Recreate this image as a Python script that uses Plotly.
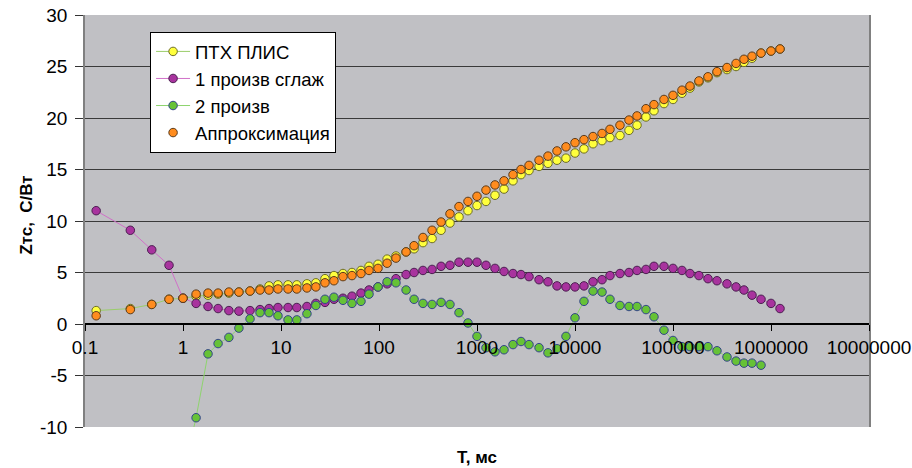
import plotly.graph_objects as go

# X positions (T, ms)
t_ms = [0.13, 0.29, 0.48, 0.72, 1.0, 1.36, 1.80, 2.28, 2.94, 3.72,
        4.83, 6.11, 7.55, 9.31, 11.8, 14.5, 18.4, 22.7, 28.1, 34.7,
        42.9, 53.0, 65.5, 79.1, 97.7, 121, 149, 189, 228, 281,
        348, 430, 530, 655, 809, 1000, 1235, 1526, 1887, 2330,
        2812, 3395, 4296, 5300, 6550, 8090, 10000, 12350, 15270, 18870,
        22750, 28770, 35560, 42950, 53000, 63970, 80900, 100000, 123500, 149000,
        184000, 227500, 281000, 355600, 439800, 530000, 640000, 791000, 1000000, 1236000]

ptx_plis = [1.3, 1.5, 1.9, 2.4, 2.5, 2.7, 2.8, 2.9, 3.0, 3.1,
            3.2, 3.4, 3.7, 3.8, 3.8, 3.8, 3.9, 4.0, 4.4, 4.7,
            4.9, 5.0, 5.2, 5.6, 5.8, 6.3, 6.6, 7.0, 7.3, 7.9,
            8.3, 9.1, 9.8, 10.4, 11.0, 11.5, 11.9, 12.5, 13.1, 13.9,
            14.5, 14.9, 15.3, 15.6, 15.9, 16.1, 16.6, 17.0, 17.5, 17.8,
            18.1, 18.3, 18.8, 19.3, 20.1, 20.7, 21.4, 21.8, 22.4, 22.9,
            23.5, 23.9, 24.4, 24.7, 25.0, 25.4, 25.8, 26.3, 26.5, 26.7]

deriv1 = [11.0, 9.1, 7.2, 5.7, 2.5, 2.0, 1.7, 1.5, 1.3, 1.25,
          1.3, 1.4, 1.5, 1.6, 1.6, 1.6, 1.7, 2.0, 2.1, 2.4,
          2.5, 2.7, 3.0, 3.3, 3.6, 3.9, 4.4, 4.8, 5.0, 5.2,
          5.3, 5.6, 5.7, 6.0, 6.0, 6.0, 5.7, 5.4, 5.1, 4.9,
          4.8, 4.6, 4.3, 4.1, 3.7, 3.6, 3.6, 3.7, 4.1, 4.3,
          4.7, 4.9, 5.0, 5.2, 5.3, 5.6, 5.6, 5.4, 5.2, 4.9,
          4.7, 4.4, 4.2, 3.9, 3.6, 3.3, 2.8, 2.4, 2.0, 1.5]

deriv2 = [None, None, None, None, -14.5, -9.1, -2.9, -1.9, -1.3, -0.4,
          0.5, 1.1, 1.1, 0.8, 0.4, 0.4, 1.0, 1.8, 2.4, 2.6,
          2.3, 2.0, 2.2, 2.9, 3.6, 4.1, 4.0, 3.3, 2.4, 2.0,
          1.9, 2.1, 1.9, 1.1, 0.1, -1.2, -2.3, -2.7, -2.5, -2.0,
          -1.7, -2.0, -2.3, -2.8, -2.4, -1.2, 0.6, 2.2, 3.2, 3.1,
          2.4, 1.8, 1.7, 1.7, 1.4, 0.7, -0.6, -1.6, -2.2, -2.2,
          -2.2, -2.2, -2.6, -3.2, -3.6, -3.8, -3.8, -4.0, None, None]

approx = [0.8, 1.4, 1.9, 2.4, 2.5, 2.9, 3.0, 3.0, 3.1, 3.1,
          3.2, 3.3, 3.3, 3.4, 3.4, 3.4, 3.5, 3.6, 4.0, 4.2,
          4.6, 4.7, 4.9, 5.2, 5.4, 5.9, 6.4, 7.0, 7.6, 8.4,
          9.1, 9.9, 10.7, 11.4, 11.9, 12.4, 13.0, 13.5, 13.9, 14.5,
          15.0, 15.4, 15.9, 16.3, 16.8, 17.2, 17.6, 17.9, 18.2, 18.5,
          18.9, 19.3, 19.8, 20.2, 20.9, 21.3, 21.8, 22.2, 22.7, 23.1,
          23.6, 24.0, 24.5, 24.9, 25.3, 25.7, 26.0, 26.3, 26.5, 26.7]

x_tickvals = [0.1, 1, 10, 100, 1000, 10000, 100000, 1000000, 10000000]
x_ticktext = ["0.1", "1", "10", "100", "1000", "10000", "100000", "1000000", "10000000"]
y_tickvals = [-10, -5, 0, 5, 10, 15, 20, 25, 30]
y_ticktext = ["-10", "-5", "0", "5", "10", "15", "20", "25", "30"]

FONT = "Liberation Sans, Arial, sans-serif"

fig = go.Figure()
fig.add_trace(go.Scatter(
    x=t_ms, y=ptx_plis, name="ПТХ ПЛИС", mode="lines+markers", legendgroup="a",
    line=dict(color="#9ACD6A", width=1),
    marker=dict(color="#FFFF3C", size=8.5, line=dict(color="#6B6B2A", width=1))))
fig.add_trace(go.Scatter(
    x=t_ms, y=deriv1, name="1 произв сглаж", mode="lines+markers", legendgroup="b",
    line=dict(color="#D070C8", width=1),
    marker=dict(color="#A8339E", size=8.5, line=dict(color="#4A2050", width=1))))
fig.add_trace(go.Scatter(
    x=t_ms, y=deriv2, name="2 произв", mode="lines+markers", legendgroup="c",
    line=dict(color="#8ED46E", width=1),
    marker=dict(color="#66C236", size=8.5, line=dict(color="#34448C", width=1))))
fig.add_trace(go.Scatter(
    x=t_ms, y=approx, name="Аппроксимация", mode="markers", legendgroup="d",
    marker=dict(color="#FF8C1E", size=8.5, line=dict(color="#5A3A1A", width=1))))

fig.update_layout(
    width=912, height=468,
    margin=dict(l=85, r=43, t=15, b=41),
    paper_bgcolor="white",
    plot_bgcolor="#C0C0C4",
    font=dict(family=FONT, size=18, color="black"),
    legend=dict(x=0.083, y=0.959, xanchor="left", yanchor="top",
                bgcolor="white", bordercolor="black", borderwidth=1,
                font=dict(size=18.5), tracegroupgap=0, itemwidth=34),
    showlegend=True,
    xaxis=dict(type="log", range=[-1, 7], anchor="free", position=0.25,
               automargin=False,
               tickvals=x_tickvals, ticktext=x_ticktext,
               showgrid=False, zeroline=False,
               showline=True, linecolor="black", linewidth=1.5,
               ticks="outside", ticklen=6, tickcolor="black", tickwidth=1,
               tickfont=dict(size=19)),
    yaxis=dict(range=[-10, 30], tickvals=y_tickvals, ticktext=y_ticktext,
               domain=[0, 1], automargin=False,
               showgrid=True, gridcolor="#3A3A3A", gridwidth=1.3,
               zeroline=True, zerolinecolor="black", zerolinewidth=1.5,
               showline=True, linecolor="#808080", linewidth=1.5, mirror=True,
               ticks="outside", ticklen=8, tickcolor="#333333",
               ticklabelstandoff=4,
               tickfont=dict(size=19)),
    annotations=[
        dict(text="<b>Т, мс</b>", xref="paper", yref="paper",
             x=0.5, y=-0.073, xanchor="center", yanchor="middle",
             showarrow=False, font=dict(size=17)),
        dict(text="<b>Zтс,  С/Вт</b>", xref="paper", yref="paper",
             x=-0.074, y=0.515, xanchor="center", yanchor="middle",
             textangle=-90, showarrow=False, font=dict(size=17)),
    ],
)

fig.write_html("out.html")
